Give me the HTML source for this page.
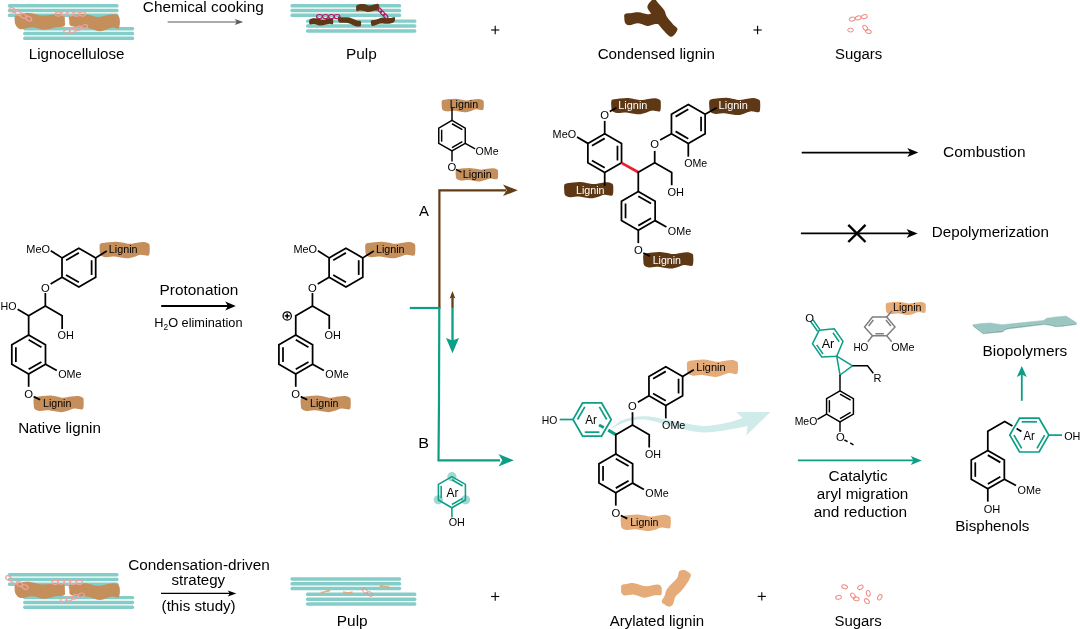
<!DOCTYPE html>
<html lang="en">
<head>
<meta charset="utf-8">
<title>Lignin condensation-driven strategy</title>
<style>
html,body{margin:0;padding:0;background:#ffffff;}
body{width:1080px;height:629px;overflow:hidden;}
svg{display:block;will-change:transform;}
svg text{font-family:'Liberation Sans',Arial,Helvetica,sans-serif;}
</style>
</head>
<body>
<svg width="1080" height="629" viewBox="0 0 1080 629" font-family="'Liberation Sans', Arial, Helvetica, sans-serif">
<rect width="1080" height="629" fill="#ffffff"/>
<rect x="7.8" y="4.1" width="110.8" height="3.45" rx="1.6" fill="#84cdc8"/>
<rect x="7.8" y="8.8" width="110.8" height="3.45" rx="1.6" fill="#84cdc8"/>
<rect x="7.8" y="13.6" width="110.8" height="3.45" rx="1.6" fill="#84cdc8"/>
<rect x="23.1" y="27" width="111.1" height="3.45" rx="1.6" fill="#84cdc8"/>
<rect x="23.1" y="31.8" width="111.1" height="3.45" rx="1.6" fill="#84cdc8"/>
<rect x="23.1" y="36.6" width="111.1" height="3.45" rx="1.6" fill="#84cdc8"/>
<path d="M15.56 15.59 C16.79 14.4 19.66 14.08 22.04 13.65 C24.41 13.22 26.36 12.68 29.82 13 C33.27 13.32 38.46 15.38 42.78 15.59 C47.1 15.81 52.24 14.36 55.74 14.3 C59.24 14.23 62.27 14.12 63.78 15.2 C65.29 16.28 64.75 18.92 64.82 20.78 C64.88 22.64 65.68 25.27 64.17 26.35 C62.66 27.43 59.09 26.68 55.74 27.26 C52.39 27.84 47.96 29.85 44.08 29.85 C40.19 29.85 36.3 27.37 32.41 27.26 C28.52 27.15 23.44 29.42 20.74 29.2 C18.04 28.99 17.22 27.37 16.2 25.96 C15.19 24.56 14.76 22.51 14.65 20.78 C14.54 19.05 14.32 16.78 15.56 15.59 Z" fill="#c58f5c"/>
<path d="M70 15.98 C72.27 14.9 79.51 14.4 82.97 14.3 C86.42 14.19 88.15 14.9 90.74 15.33 C93.34 15.77 94.85 17.06 98.52 16.89 C102.2 16.72 109.43 14.45 112.78 14.3 C116.13 14.15 117.43 14.69 118.62 15.98 C119.8 17.28 119.85 20.09 119.91 22.07 C119.98 24.06 119.54 26.83 119 27.91 C118.46 28.99 117.92 28.6 116.67 28.56 C115.42 28.51 114.29 27.22 111.49 27.65 C108.68 28.08 103.71 31.11 99.82 31.15 C95.93 31.19 91.82 28.56 88.15 27.91 C84.48 27.26 80.76 27.65 77.78 27.26 C74.8 26.87 71.67 26.65 70.26 25.57 C68.86 24.49 69.4 22.38 69.35 20.78 C69.31 19.18 67.73 17.06 70 15.98 Z" fill="#c58f5c"/>
<ellipse cx="12.3" cy="9.9" rx="3.1" ry="2.1" transform="rotate(28 12.3 9.9)" fill="none" stroke="#f0a39f" stroke-width="1.2"/>
<ellipse cx="18.1" cy="13.2" rx="3.1" ry="2.1" transform="rotate(28 18.1 13.2)" fill="none" stroke="#f0a39f" stroke-width="1.2"/>
<ellipse cx="23.3" cy="15.8" rx="3.1" ry="2.1" transform="rotate(28 23.3 15.8)" fill="none" stroke="#f0a39f" stroke-width="1.2"/>
<ellipse cx="28.8" cy="18.7" rx="3.1" ry="2.1" transform="rotate(28 28.8 18.7)" fill="none" stroke="#f0a39f" stroke-width="1.2"/>
<ellipse cx="58.3" cy="14" rx="3" ry="2.2" transform="rotate(0 58.3 14)" fill="none" stroke="#f0a39f" stroke-width="1.2"/>
<ellipse cx="64.4" cy="13.6" rx="3" ry="2.2" transform="rotate(0 64.4 13.6)" fill="none" stroke="#f0a39f" stroke-width="1.2"/>
<ellipse cx="70.4" cy="13.6" rx="3" ry="2.2" transform="rotate(0 70.4 13.6)" fill="none" stroke="#f0a39f" stroke-width="1.2"/>
<ellipse cx="76.5" cy="13.9" rx="3" ry="2.2" transform="rotate(0 76.5 13.9)" fill="none" stroke="#f0a39f" stroke-width="1.2"/>
<ellipse cx="82.6" cy="14" rx="3" ry="2.2" transform="rotate(0 82.6 14)" fill="none" stroke="#f0a39f" stroke-width="1.2"/>
<ellipse cx="66.8" cy="31.5" rx="3.1" ry="2.1" transform="rotate(-18 66.8 31.5)" fill="none" stroke="#f0a39f" stroke-width="1.2"/>
<ellipse cx="72.6" cy="30.5" rx="3.1" ry="2.1" transform="rotate(-18 72.6 30.5)" fill="none" stroke="#f0a39f" stroke-width="1.2"/>
<ellipse cx="78.4" cy="28.5" rx="3.1" ry="2.1" transform="rotate(-18 78.4 28.5)" fill="none" stroke="#f0a39f" stroke-width="1.2"/>
<ellipse cx="84.5" cy="27" rx="3.1" ry="2.1" transform="rotate(-18 84.5 27)" fill="none" stroke="#f0a39f" stroke-width="1.2"/>
<text x="28.76" y="59" font-size="15.5" text-anchor="start" fill="#000000" stroke="#000000" stroke-width="0" textLength="95.71" lengthAdjust="spacingAndGlyphs">Lignocellulose</text>
<text x="142.83" y="12" font-size="15.5" text-anchor="start" fill="#000000" stroke="#000000" stroke-width="0" textLength="121.01" lengthAdjust="spacingAndGlyphs">Chemical cooking</text>
<line x1="167.6" y1="22" x2="237" y2="22" stroke="#5a5a5a" stroke-width="1.2" stroke-linecap="butt"/>
<polygon points="243.2,22 234.7,19 236.7,22 234.7,25" fill="#5a5a5a"/>
<rect x="290.4" y="4.1" width="110.8" height="3.45" rx="1.6" fill="#84cdc8"/>
<rect x="290.4" y="8.8" width="110.8" height="3.45" rx="1.6" fill="#84cdc8"/>
<rect x="290.4" y="13.6" width="110.8" height="3.45" rx="1.6" fill="#84cdc8"/>
<rect x="305.9" y="19.4" width="110.5" height="3.45" rx="1.6" fill="#84cdc8"/>
<rect x="305.9" y="24.2" width="110.5" height="3.45" rx="1.6" fill="#84cdc8"/>
<rect x="305.9" y="29.2" width="110.5" height="3.45" rx="1.6" fill="#84cdc8"/>
<path d="M310.49 18.98 C311.21 18.64 312.44 18.27 313.59 18.19 C314.74 18.12 316.14 18.32 317.41 18.56 C318.68 18.79 319.95 19.47 321.22 19.61 C322.5 19.75 323.77 19.6 325.04 19.38 C326.31 19.16 327.7 18.49 328.86 18.3 C330.01 18.11 331.24 17.93 331.96 18.25 C332.67 18.56 332.95 19.33 333.15 20.18 C333.35 21.04 333.35 22.69 333.15 23.38 C332.95 24.07 332.67 24.24 331.96 24.32 C331.24 24.41 330.01 23.81 328.86 23.88 C327.7 23.95 326.31 24.44 325.04 24.72 C323.77 25 322.5 25.53 321.22 25.56 C319.95 25.59 318.68 25.15 317.41 24.9 C316.14 24.65 314.74 24.13 313.59 24.06 C312.44 23.99 311.21 24.55 310.49 24.47 C309.77 24.39 309.5 24.28 309.3 23.58 C309.1 22.87 309.1 21 309.3 20.24 C309.5 19.47 309.77 19.32 310.49 18.98 Z" fill="#5e3815"/>
<path d="M339.23 16.63 C339.92 16.67 341.11 17.21 342.23 17.31 C343.35 17.42 344.69 17.2 345.92 17.25 C347.15 17.3 348.38 17.29 349.61 17.59 C350.84 17.9 352.08 18.59 353.31 19.08 C354.54 19.58 355.88 20.25 357 20.55 C358.11 20.85 359.31 20.62 360 20.87 C360.68 21.12 360.94 21.3 361.09 22.05 C361.25 22.81 361.17 24.66 360.95 25.39 C360.73 26.12 360.45 26.26 359.75 26.42 C359.06 26.59 357.89 26.58 356.79 26.4 C355.68 26.22 354.35 25.81 353.13 25.35 C351.92 24.89 350.7 24.06 349.48 23.62 C348.27 23.18 347.05 22.86 345.83 22.71 C344.62 22.57 343.29 22.8 342.18 22.76 C341.08 22.72 339.9 22.89 339.22 22.48 C338.53 22.06 338.27 21.17 338.08 20.26 C337.89 19.36 337.88 17.68 338.08 17.07 C338.27 16.46 338.54 16.59 339.23 16.63 Z" fill="#5e3815"/>
<path d="M357.38 5.03 C358.07 4.69 359.26 4.28 360.38 4.12 C361.49 3.96 362.84 3.88 364.07 4.05 C365.3 4.22 366.53 4.92 367.76 5.14 C368.99 5.35 370.22 5.48 371.45 5.34 C372.69 5.2 374.03 4.53 375.15 4.28 C376.26 4.04 377.46 3.57 378.15 3.88 C378.83 4.18 379.08 5.12 379.24 6.09 C379.4 7.07 379.32 8.97 379.1 9.72 C378.87 10.47 378.59 10.45 377.9 10.58 C377.21 10.71 376.04 10.32 374.93 10.48 C373.83 10.64 372.5 11.29 371.28 11.55 C370.07 11.81 368.85 12.11 367.63 12.03 C366.42 11.96 365.2 11.34 363.98 11.1 C362.77 10.86 361.43 10.55 360.33 10.58 C359.23 10.61 358.05 11.4 357.37 11.29 C356.68 11.18 356.42 10.78 356.23 9.92 C356.03 9.07 356.03 6.97 356.23 6.15 C356.42 5.33 356.69 5.37 357.38 5.03 Z" fill="#5e3815"/>
<path d="M372.09 20.13 C372.81 19.93 374.08 20.07 375.26 19.8 C376.44 19.53 377.86 18.86 379.16 18.5 C380.46 18.13 381.76 17.7 383.06 17.59 C384.36 17.48 385.66 17.76 386.96 17.84 C388.26 17.92 389.68 18.14 390.86 18.06 C392.04 17.98 393.32 17.37 394.03 17.37 C394.73 17.37 394.98 17.43 395.1 18.05 C395.22 18.67 395.02 20.37 394.74 21.1 C394.46 21.83 394.15 22.04 393.42 22.44 C392.7 22.84 391.51 23.28 390.37 23.51 C389.24 23.74 387.87 23.82 386.62 23.81 C385.37 23.79 384.12 23.41 382.86 23.42 C381.61 23.43 380.36 23.56 379.11 23.87 C377.86 24.17 376.49 24.9 375.36 25.26 C374.22 25.63 373.02 26.24 372.31 26.08 C371.59 25.91 371.31 25.1 371.08 24.25 C370.85 23.41 370.76 21.68 370.93 20.99 C371.1 20.3 371.37 20.32 372.09 20.13 Z" fill="#5e3815"/>
<ellipse cx="319.5" cy="16.5" rx="2.9" ry="2" transform="rotate(0 319.5 16.5)" fill="none" stroke="#b5185f" stroke-width="1.2"/>
<ellipse cx="325.4" cy="16.5" rx="2.9" ry="2" transform="rotate(0 325.4 16.5)" fill="none" stroke="#b5185f" stroke-width="1.2"/>
<ellipse cx="331.5" cy="16.5" rx="2.9" ry="2" transform="rotate(0 331.5 16.5)" fill="none" stroke="#b5185f" stroke-width="1.2"/>
<ellipse cx="337" cy="16.5" rx="2.9" ry="2" transform="rotate(0 337 16.5)" fill="none" stroke="#b5185f" stroke-width="1.2"/>
<ellipse cx="379.8" cy="10.1" rx="2.6" ry="1.6" transform="rotate(48 379.8 10.1)" fill="none" stroke="#b5185f" stroke-width="1.2"/>
<ellipse cx="382.6" cy="13.2" rx="2.6" ry="1.6" transform="rotate(48 382.6 13.2)" fill="none" stroke="#b5185f" stroke-width="1.2"/>
<ellipse cx="385.7" cy="16.3" rx="2.6" ry="1.6" transform="rotate(48 385.7 16.3)" fill="none" stroke="#b5185f" stroke-width="1.2"/>
<text x="345.94" y="59" font-size="15.5" text-anchor="start" fill="#000000" stroke="#000000" stroke-width="0" textLength="30.81" lengthAdjust="spacingAndGlyphs">Pulp</text>
<line x1="491.1" y1="30" x2="499.3" y2="30" stroke="#000000" stroke-width="1.1" stroke-linecap="butt"/>
<line x1="495.2" y1="25.8" x2="495.2" y2="34.2" stroke="#000000" stroke-width="1.1" stroke-linecap="butt"/>
<path d="M624.98 14 C626.24 13.14 629.63 13.24 631.85 12.96 C634.08 12.68 635.74 12.1 638.34 12.32 C640.93 12.53 645.03 13.98 647.41 14.26 C649.79 14.54 650.43 13.35 652.6 14 C654.76 14.65 658.64 16.49 660.37 18.15 C662.1 19.81 663.83 23.01 662.97 23.98 C662.1 24.95 657.78 23.66 655.19 23.98 C652.6 24.31 650.22 26.03 647.41 25.93 C644.6 25.82 641.36 23.44 638.34 23.33 C635.31 23.23 631.42 25.28 629.26 25.28 C627.1 25.28 626.19 24.52 625.37 23.33 C624.55 22.15 624.4 19.7 624.33 18.15 C624.27 16.59 623.73 14.86 624.98 14 Z" fill="#5e3815"/>
<path d="M652.6 -0.65 C651.3 0.54 647.73 4.21 647.41 6.48 C647.09 8.75 648.92 10.15 650.65 12.96 C652.38 15.77 655.73 20.53 657.78 23.33 C659.83 26.14 661.02 27.66 662.97 29.82 C664.91 31.98 667.72 35.33 669.45 36.3 C671.18 37.27 672 36.84 673.34 35.65 C674.68 34.46 677.49 31 677.49 29.17 C677.49 27.33 675.11 26.68 673.34 24.63 C671.57 22.58 668.37 19.23 666.86 16.85 C665.34 14.48 665.77 12.75 664.26 10.37 C662.75 7.99 659.29 4.43 657.78 2.59 C656.27 0.76 656.05 -0.11 655.19 -0.65 C654.32 -1.19 653.89 -1.84 652.6 -0.65 Z" fill="#5e3815"/>
<text x="597.63" y="59" font-size="15.5" text-anchor="start" fill="#000000" stroke="#000000" stroke-width="0" textLength="117.32" lengthAdjust="spacingAndGlyphs">Condensed lignin</text>
<line x1="753.5" y1="30" x2="761.7" y2="30" stroke="#000000" stroke-width="1.1" stroke-linecap="butt"/>
<line x1="757.6" y1="25.8" x2="757.6" y2="34.2" stroke="#000000" stroke-width="1.1" stroke-linecap="butt"/>
<ellipse cx="852.2" cy="19.1" rx="2.9" ry="1.9" transform="rotate(-15 852.2 19.1)" fill="none" stroke="#ee8c84" stroke-width="1"/>
<ellipse cx="858.3" cy="17.9" rx="2.9" ry="1.9" transform="rotate(-15 858.3 17.9)" fill="none" stroke="#ee8c84" stroke-width="1"/>
<ellipse cx="864.4" cy="16.6" rx="2.9" ry="1.9" transform="rotate(-15 864.4 16.6)" fill="none" stroke="#ee8c84" stroke-width="1"/>
<ellipse cx="850.6" cy="30.1" rx="2.9" ry="1.9" transform="rotate(0 850.6 30.1)" fill="none" stroke="#ee8c84" stroke-width="1"/>
<ellipse cx="865.2" cy="27.9" rx="2.9" ry="1.9" transform="rotate(50 865.2 27.9)" fill="none" stroke="#ee8c84" stroke-width="1"/>
<ellipse cx="868.4" cy="31.5" rx="2.9" ry="1.9" transform="rotate(15 868.4 31.5)" fill="none" stroke="#ee8c84" stroke-width="1"/>
<text x="834.97" y="59" font-size="15.5" text-anchor="start" fill="#000000" stroke="#000000" stroke-width="0" textLength="47.31" lengthAdjust="spacingAndGlyphs">Sugars</text>
<rect x="7.8" y="573" width="110.8" height="3.45" rx="1.6" fill="#84cdc8"/>
<rect x="7.8" y="577.7" width="110.8" height="3.45" rx="1.6" fill="#84cdc8"/>
<rect x="7.8" y="582.5" width="110.8" height="3.45" rx="1.6" fill="#84cdc8"/>
<rect x="23.1" y="595.9" width="111.1" height="3.45" rx="1.6" fill="#84cdc8"/>
<rect x="23.1" y="600.7" width="111.1" height="3.45" rx="1.6" fill="#84cdc8"/>
<rect x="23.1" y="605.5" width="111.1" height="3.45" rx="1.6" fill="#84cdc8"/>
<path d="M15.56 584.49 C16.79 583.3 19.66 582.98 22.04 582.55 C24.41 582.12 26.36 581.58 29.82 581.9 C33.27 582.22 38.46 584.28 42.78 584.49 C47.1 584.71 52.24 583.26 55.74 583.2 C59.24 583.13 62.27 583.02 63.78 584.1 C65.29 585.18 64.75 587.82 64.82 589.68 C64.88 591.54 65.68 594.17 64.17 595.25 C62.66 596.33 59.09 595.58 55.74 596.16 C52.39 596.74 47.96 598.75 44.08 598.75 C40.19 598.75 36.3 596.27 32.41 596.16 C28.52 596.05 23.44 598.32 20.74 598.1 C18.04 597.89 17.22 596.27 16.2 594.86 C15.19 593.46 14.76 591.41 14.65 589.68 C14.54 587.95 14.32 585.68 15.56 584.49 Z" fill="#c58f5c"/>
<path d="M70 584.88 C72.27 583.8 79.51 583.3 82.97 583.2 C86.42 583.09 88.15 583.8 90.74 584.23 C93.34 584.67 94.85 585.96 98.52 585.79 C102.2 585.62 109.43 583.35 112.78 583.2 C116.13 583.05 117.43 583.59 118.62 584.88 C119.8 586.18 119.85 588.99 119.91 590.97 C119.98 592.96 119.54 595.73 119 596.81 C118.46 597.89 117.92 597.5 116.67 597.46 C115.42 597.41 114.29 596.12 111.49 596.55 C108.68 596.98 103.71 600.01 99.82 600.05 C95.93 600.09 91.82 597.46 88.15 596.81 C84.48 596.16 80.76 596.55 77.78 596.16 C74.8 595.77 71.67 595.55 70.26 594.47 C68.86 593.39 69.4 591.28 69.35 589.68 C69.31 588.08 67.73 585.96 70 584.88 Z" fill="#c58f5c"/>
<ellipse cx="8.6" cy="578.2" rx="3.1" ry="2.1" transform="rotate(28 8.6 578.2)" fill="none" stroke="#f0a39f" stroke-width="1.2"/>
<ellipse cx="14.4" cy="581.5" rx="3.1" ry="2.1" transform="rotate(28 14.4 581.5)" fill="none" stroke="#f0a39f" stroke-width="1.2"/>
<ellipse cx="19.6" cy="584.1" rx="3.1" ry="2.1" transform="rotate(28 19.6 584.1)" fill="none" stroke="#f0a39f" stroke-width="1.2"/>
<ellipse cx="25.1" cy="587" rx="3.1" ry="2.1" transform="rotate(28 25.1 587)" fill="none" stroke="#f0a39f" stroke-width="1.2"/>
<ellipse cx="55.1" cy="582.3" rx="3" ry="2.2" transform="rotate(0 55.1 582.3)" fill="none" stroke="#f0a39f" stroke-width="1.2"/>
<ellipse cx="61.2" cy="581.9" rx="3" ry="2.2" transform="rotate(0 61.2 581.9)" fill="none" stroke="#f0a39f" stroke-width="1.2"/>
<ellipse cx="67.2" cy="581.9" rx="3" ry="2.2" transform="rotate(0 67.2 581.9)" fill="none" stroke="#f0a39f" stroke-width="1.2"/>
<ellipse cx="73.3" cy="582.2" rx="3" ry="2.2" transform="rotate(0 73.3 582.2)" fill="none" stroke="#f0a39f" stroke-width="1.2"/>
<ellipse cx="79.4" cy="582.3" rx="3" ry="2.2" transform="rotate(0 79.4 582.3)" fill="none" stroke="#f0a39f" stroke-width="1.2"/>
<ellipse cx="63.6" cy="599.8" rx="3.1" ry="2.1" transform="rotate(-18 63.6 599.8)" fill="none" stroke="#f0a39f" stroke-width="1.2"/>
<ellipse cx="69.4" cy="598.8" rx="3.1" ry="2.1" transform="rotate(-18 69.4 598.8)" fill="none" stroke="#f0a39f" stroke-width="1.2"/>
<ellipse cx="75.2" cy="596.8" rx="3.1" ry="2.1" transform="rotate(-18 75.2 596.8)" fill="none" stroke="#f0a39f" stroke-width="1.2"/>
<ellipse cx="81.3" cy="595.3" rx="3.1" ry="2.1" transform="rotate(-18 81.3 595.3)" fill="none" stroke="#f0a39f" stroke-width="1.2"/>
<text x="128.13" y="570" font-size="15.5" text-anchor="start" fill="#000000" stroke="#000000" stroke-width="0" textLength="141.7" lengthAdjust="spacingAndGlyphs">Condensation-driven</text>
<text x="171.52" y="585" font-size="15.5" text-anchor="start" fill="#000000" stroke="#000000" stroke-width="0" textLength="53.59" lengthAdjust="spacingAndGlyphs">strategy</text>
<text x="161.61" y="611" font-size="15.5" text-anchor="start" fill="#000000" stroke="#000000" stroke-width="0" textLength="74.07" lengthAdjust="spacingAndGlyphs">(this study)</text>
<line x1="161" y1="593.4" x2="230.1" y2="593.4" stroke="#000000" stroke-width="1.1" stroke-linecap="butt"/>
<polygon points="236.3,593.4 227.8,590.4 229.8,593.4 227.8,596.4" fill="#000000"/>
<rect x="290.4" y="577.2" width="110.8" height="3.5" rx="1.6" fill="#84cdc8"/>
<rect x="290.4" y="582" width="110.8" height="3.5" rx="1.6" fill="#84cdc8"/>
<rect x="290.4" y="586.7" width="110.8" height="3.5" rx="1.6" fill="#84cdc8"/>
<rect x="305.9" y="592.6" width="110.5" height="3.5" rx="1.6" fill="#84cdc8"/>
<rect x="305.9" y="597.4" width="110.5" height="3.5" rx="1.6" fill="#84cdc8"/>
<rect x="305.9" y="602.2" width="110.5" height="3.5" rx="1.6" fill="#84cdc8"/>
<polygon points="320.35,591.87 322.78,591.57 325.16,591.08 327.33,590.02 329.45,588.77 330.35,591.43 327.92,591.73 325.54,592.22 323.37,593.28 321.25,594.53" fill="#e5ac7a"/>
<polygon points="343.1,591.3 345.48,591.8 347.85,592.1 350.23,591.8 352.6,591.3 352.6,594.1 350.23,593.6 347.85,593.3 345.48,593.6 343.1,594.1" fill="#e5ac7a"/>
<polygon points="380.06,584.22 382.24,585.14 384.46,585.86 386.79,585.99 389.16,585.92 388.64,588.68 386.46,587.76 384.24,587.04 381.91,586.91 379.54,586.98" fill="#e5ac7a"/>
<ellipse cx="364.7" cy="590.5" rx="3" ry="2" transform="rotate(45 364.7 590.5)" fill="none" stroke="#ee8c84" stroke-width="0.8"/>
<ellipse cx="370.1" cy="594" rx="3" ry="2" transform="rotate(35 370.1 594)" fill="none" stroke="#ee8c84" stroke-width="0.8"/>
<text x="336.84" y="626" font-size="15.5" text-anchor="start" fill="#000000" stroke="#000000" stroke-width="0" textLength="30.81" lengthAdjust="spacingAndGlyphs">Pulp</text>
<line x1="491.1" y1="596.5" x2="499.3" y2="596.5" stroke="#000000" stroke-width="1.1" stroke-linecap="butt"/>
<line x1="495.2" y1="592.3" x2="495.2" y2="600.7" stroke="#000000" stroke-width="1.1" stroke-linecap="butt"/>
<path d="M621.76 584.93 C622.84 584.17 625.54 583.91 627.59 583.63 C629.65 583.35 631.05 582.81 634.08 583.24 C637.1 583.67 641.85 586.01 645.74 586.22 C649.63 586.44 654.82 584.43 657.41 584.54 C660 584.65 660.59 585.73 661.3 586.87 C662.01 588.02 661.73 590.07 661.69 591.41 C661.64 592.75 662.18 594.26 661.04 594.91 C659.89 595.56 657.58 594.84 654.82 595.3 C652.05 595.75 647.9 597.74 644.45 597.63 C640.99 597.52 637.32 595 634.08 594.65 C630.83 594.3 627.1 595.84 625 595.56 C622.91 595.28 622.15 594.2 621.5 592.96 C620.85 591.73 621.07 589.51 621.11 588.17 C621.16 586.83 620.68 585.68 621.76 584.93 Z" fill="#e5ac7a"/>
<path d="M679.45 570.93 C680.27 570.26 682.15 569.89 683.34 569.89 C684.53 569.89 685.32 570.15 686.58 570.93 C687.83 571.7 690.42 573.09 690.86 574.56 C691.29 576.03 689.99 578.01 689.17 579.74 C688.35 581.47 687.33 582.98 685.93 584.93 C684.53 586.87 682.47 589.46 680.74 591.41 C679.02 593.35 676.86 594.43 675.56 596.59 C674.26 598.75 674.05 602.69 672.97 604.37 C671.89 606.06 670.59 606.75 669.08 606.71 C667.56 606.66 665.12 605.04 663.89 604.11 C662.66 603.18 661.58 602.49 661.69 601.13 C661.8 599.77 663.74 597.78 664.54 595.95 C665.34 594.11 665.51 591.95 666.48 590.11 C667.46 588.28 668.64 586.87 670.37 584.93 C672.1 582.98 675.52 580.28 676.86 578.45 C678.19 576.61 677.98 575.16 678.41 573.91 C678.84 572.65 678.63 571.6 679.45 570.93 Z" fill="#e5ac7a"/>
<text x="609.7" y="626" font-size="15.5" text-anchor="start" fill="#000000" stroke="#000000" stroke-width="0" textLength="94.45" lengthAdjust="spacingAndGlyphs">Arylated lignin</text>
<line x1="757.7" y1="596.4" x2="765.9" y2="596.4" stroke="#000000" stroke-width="1.1" stroke-linecap="butt"/>
<line x1="761.8" y1="592.2" x2="761.8" y2="600.6" stroke="#000000" stroke-width="1.1" stroke-linecap="butt"/>
<ellipse cx="844.6" cy="586.8" rx="2.9" ry="1.9" transform="rotate(20 844.6 586.8)" fill="none" stroke="#ee8c84" stroke-width="1"/>
<ellipse cx="860.4" cy="587.3" rx="2.9" ry="1.9" transform="rotate(-30 860.4 587.3)" fill="none" stroke="#ee8c84" stroke-width="1"/>
<ellipse cx="868.3" cy="593.3" rx="2.9" ry="1.9" transform="rotate(80 868.3 593.3)" fill="none" stroke="#ee8c84" stroke-width="1"/>
<ellipse cx="879.8" cy="597.3" rx="2.9" ry="1.9" transform="rotate(-60 879.8 597.3)" fill="none" stroke="#ee8c84" stroke-width="1"/>
<ellipse cx="838.5" cy="597.3" rx="2.9" ry="1.9" transform="rotate(-10 838.5 597.3)" fill="none" stroke="#ee8c84" stroke-width="1"/>
<ellipse cx="853" cy="595.7" rx="2.9" ry="1.9" transform="rotate(50 853 595.7)" fill="none" stroke="#ee8c84" stroke-width="1"/>
<ellipse cx="856.3" cy="598.8" rx="2.9" ry="1.9" transform="rotate(15 856.3 598.8)" fill="none" stroke="#ee8c84" stroke-width="1"/>
<ellipse cx="866.9" cy="601.2" rx="2.9" ry="1.9" transform="rotate(45 866.9 601.2)" fill="none" stroke="#ee8c84" stroke-width="1"/>
<text x="834.47" y="626" font-size="15.5" text-anchor="start" fill="#000000" stroke="#000000" stroke-width="0" textLength="47.31" lengthAdjust="spacingAndGlyphs">Sugars</text>
<path d="M78.85 248.15 L95.69 257.88 L95.69 277.33 L78.85 287.05 L62.01 277.33 L62.01 257.88 Z" fill="none" stroke="#000000" stroke-width="1.75" stroke-linejoin="miter"/>
<line x1="66.09" y1="260.23" x2="78.85" y2="252.87" stroke="#000000" stroke-width="1.75" stroke-linecap="butt"/>
<line x1="91.61" y1="260.23" x2="91.61" y2="274.97" stroke="#000000" stroke-width="1.75" stroke-linecap="butt"/>
<line x1="78.85" y1="282.33" x2="66.09" y2="274.97" stroke="#000000" stroke-width="1.75" stroke-linecap="butt"/>
<line x1="62.01" y1="257.88" x2="50.8" y2="250.8" stroke="#000000" stroke-width="1.75" stroke-linecap="butt"/>
<text x="26.31" y="253" font-size="11.28" text-anchor="start" fill="#000000" stroke="#000000" stroke-width="0" textLength="23.7" lengthAdjust="spacingAndGlyphs">MeO</text>
<line x1="62.01" y1="277.33" x2="50.6" y2="283.9" stroke="#000000" stroke-width="1.75" stroke-linecap="butt"/>
<text x="45.3" y="292" font-size="11.28" text-anchor="middle" fill="#000000" stroke="#000000" stroke-width="0">O</text>
<line x1="45.35" y1="293" x2="45.35" y2="305.8" stroke="#000000" stroke-width="1.75" stroke-linecap="butt"/>
<path d="M101.2 243.36 C102.7 242.83 106.12 242.47 108.7 242.2 C111.28 241.92 114.2 241.59 116.7 241.7 C119.2 241.81 121.53 242.5 123.7 242.86 C125.87 243.22 127.45 243.89 129.7 243.86 C131.95 243.83 134.78 243 137.2 242.7 C139.62 242.39 142.24 241.84 144.2 242.03 C146.16 242.23 148.03 242.94 148.95 243.86 C149.87 244.77 149.62 245.88 149.7 247.51 C149.78 249.14 149.78 252.3 149.45 253.65 C149.12 255.01 149.16 255.48 147.7 255.64 C146.24 255.81 143.03 254.43 140.7 254.65 C138.37 254.87 135.87 256.36 133.7 256.97 C131.53 257.58 129.87 258.22 127.7 258.3 C125.53 258.38 122.87 257.77 120.7 257.47 C118.53 257.17 117.2 256.53 114.7 256.47 C112.2 256.42 108.03 257.36 105.7 257.14 C103.37 256.92 101.7 256.34 100.7 255.15 C99.7 253.96 99.87 251.63 99.7 250 C99.53 248.37 99.45 246.46 99.7 245.35 C99.95 244.25 99.7 243.89 101.2 243.36 Z" fill="#c58f5c"/>
<text x="108.82" y="253" font-size="11.28" text-anchor="start" fill="#000000" stroke="#000000" stroke-width="0" textLength="28.69" lengthAdjust="spacingAndGlyphs">Lignin</text>
<line x1="95.69" y1="257.88" x2="106.7" y2="251" stroke="#000000" stroke-width="1.75" stroke-linecap="butt"/>
<path d="M17.6 309.3 L28.65 315.7 L45.35 306 L62.15 315.7 L62.15 329" fill="none" stroke="#000000" stroke-width="1.75" stroke-linejoin="miter"/>
<text x="0.43" y="310" font-size="11.28" text-anchor="start" fill="#000000" stroke="#000000" stroke-width="0" textLength="16.02" lengthAdjust="spacingAndGlyphs">HO</text>
<text x="57.51" y="339" font-size="11.28" text-anchor="start" fill="#000000" stroke="#000000" stroke-width="0" textLength="16.31" lengthAdjust="spacingAndGlyphs">OH</text>
<line x1="28.65" y1="315.7" x2="28.65" y2="335.2" stroke="#000000" stroke-width="1.75" stroke-linecap="butt"/>
<path d="M28.65 335.1 L45.49 344.82 L45.49 364.28 L28.65 374 L11.81 364.28 L11.81 344.82 Z" fill="none" stroke="#000000" stroke-width="1.75" stroke-linejoin="miter"/>
<line x1="28.65" y1="339.82" x2="41.41" y2="347.18" stroke="#000000" stroke-width="1.75" stroke-linecap="butt"/>
<line x1="41.41" y1="361.92" x2="28.65" y2="369.28" stroke="#000000" stroke-width="1.75" stroke-linecap="butt"/>
<line x1="15.89" y1="361.92" x2="15.89" y2="347.18" stroke="#000000" stroke-width="1.75" stroke-linecap="butt"/>
<line x1="45.49" y1="364.28" x2="56.79" y2="370.58" stroke="#000000" stroke-width="1.75" stroke-linecap="butt"/>
<text x="58.2" y="378" font-size="11.28" text-anchor="start" fill="#000000" stroke="#000000" stroke-width="0" textLength="23.36" lengthAdjust="spacingAndGlyphs">OMe</text>
<line x1="28.65" y1="374" x2="28.65" y2="386.8" stroke="#000000" stroke-width="1.75" stroke-linecap="butt"/>
<text x="28.65" y="398" font-size="11.28" text-anchor="middle" fill="#000000" stroke="#000000" stroke-width="0">O</text>
<path d="M35.15 397.26 C36.65 396.73 40.07 396.37 42.65 396.1 C45.23 395.82 48.15 395.49 50.65 395.6 C53.15 395.71 55.48 396.4 57.65 396.76 C59.82 397.12 61.4 397.79 63.65 397.76 C65.9 397.73 68.73 396.9 71.15 396.6 C73.57 396.29 76.19 395.74 78.15 395.93 C80.11 396.13 81.98 396.85 82.9 397.76 C83.82 398.67 83.57 399.78 83.65 401.41 C83.73 403.04 83.73 406.2 83.4 407.55 C83.07 408.91 83.11 409.38 81.65 409.54 C80.19 409.71 76.98 408.33 74.65 408.55 C72.32 408.77 69.82 410.26 67.65 410.87 C65.48 411.48 63.82 412.12 61.65 412.2 C59.48 412.28 56.82 411.67 54.65 411.37 C52.48 411.07 51.15 410.43 48.65 410.37 C46.15 410.32 41.98 411.26 39.65 411.04 C37.32 410.82 35.65 410.24 34.65 409.05 C33.65 407.86 33.82 405.53 33.65 403.9 C33.48 402.27 33.4 400.36 33.65 399.25 C33.9 398.15 33.65 397.79 35.15 397.26 Z" fill="#c58f5c"/>
<text x="42.98" y="407" font-size="11.28" text-anchor="start" fill="#000000" stroke="#000000" stroke-width="0" textLength="28.37" lengthAdjust="spacingAndGlyphs">Lignin</text>
<line x1="33.65" y1="396.6" x2="40.15" y2="399.8" stroke="#000000" stroke-width="1.75" stroke-linecap="butt"/>
<text x="18.15" y="433" font-size="15.5" text-anchor="start" fill="#000000" stroke="#000000" stroke-width="0" textLength="82.77" lengthAdjust="spacingAndGlyphs">Native lignin</text>
<text x="159.54" y="295" font-size="15.5" text-anchor="start" fill="#000000" stroke="#000000" stroke-width="0" textLength="78.73" lengthAdjust="spacingAndGlyphs">Protonation</text>
<line x1="161.2" y1="306" x2="228.3" y2="306" stroke="#000000" stroke-width="1.8" stroke-linecap="butt"/>
<polygon points="235.8,306 225.2,301.6 228,306 225.2,310.4" fill="#000000"/>
<text x="154.3" y="327" font-size="12.5" fill="#000000" textLength="88.2" lengthAdjust="spacingAndGlyphs">H<tspan font-size="8.2" dy="3.2">2</tspan><tspan dy="-3.2">O elimination</tspan></text>
<path d="M345.95 248.15 L362.79 257.88 L362.79 277.33 L345.95 287.05 L329.11 277.33 L329.11 257.88 Z" fill="none" stroke="#000000" stroke-width="1.75" stroke-linejoin="miter"/>
<line x1="333.19" y1="260.23" x2="345.95" y2="252.87" stroke="#000000" stroke-width="1.75" stroke-linecap="butt"/>
<line x1="358.71" y1="260.23" x2="358.71" y2="274.97" stroke="#000000" stroke-width="1.75" stroke-linecap="butt"/>
<line x1="345.95" y1="282.33" x2="333.19" y2="274.97" stroke="#000000" stroke-width="1.75" stroke-linecap="butt"/>
<line x1="329.11" y1="257.88" x2="317.9" y2="250.8" stroke="#000000" stroke-width="1.75" stroke-linecap="butt"/>
<text x="293.41" y="253" font-size="11.28" text-anchor="start" fill="#000000" stroke="#000000" stroke-width="0" textLength="23.7" lengthAdjust="spacingAndGlyphs">MeO</text>
<line x1="329.11" y1="277.33" x2="317.7" y2="283.9" stroke="#000000" stroke-width="1.75" stroke-linecap="butt"/>
<text x="312.4" y="292" font-size="11.28" text-anchor="middle" fill="#000000" stroke="#000000" stroke-width="0">O</text>
<line x1="312.45" y1="293" x2="312.45" y2="305.8" stroke="#000000" stroke-width="1.75" stroke-linecap="butt"/>
<path d="M366.8 243.36 C368.3 242.83 371.72 242.47 374.3 242.2 C376.88 241.92 379.8 241.59 382.3 241.7 C384.8 241.81 387.13 242.5 389.3 242.86 C391.47 243.22 393.05 243.89 395.3 243.86 C397.55 243.83 400.38 243 402.8 242.7 C405.22 242.39 407.84 241.84 409.8 242.03 C411.76 242.23 413.63 242.94 414.55 243.86 C415.47 244.77 415.22 245.88 415.3 247.51 C415.38 249.14 415.38 252.3 415.05 253.65 C414.72 255.01 414.76 255.48 413.3 255.64 C411.84 255.81 408.63 254.43 406.3 254.65 C403.97 254.87 401.47 256.36 399.3 256.97 C397.13 257.58 395.47 258.22 393.3 258.3 C391.13 258.38 388.47 257.77 386.3 257.47 C384.13 257.17 382.8 256.53 380.3 256.47 C377.8 256.42 373.63 257.36 371.3 257.14 C368.97 256.92 367.3 256.34 366.3 255.15 C365.3 253.96 365.47 251.63 365.3 250 C365.13 248.37 365.05 246.46 365.3 245.35 C365.55 244.25 365.3 243.89 366.8 243.36 Z" fill="#c58f5c"/>
<text x="375.92" y="253" font-size="11.28" text-anchor="start" fill="#000000" stroke="#000000" stroke-width="0" textLength="28.69" lengthAdjust="spacingAndGlyphs">Lignin</text>
<line x1="362.79" y1="257.88" x2="373.8" y2="251" stroke="#000000" stroke-width="1.75" stroke-linecap="butt"/>
<path d="M295.75 335.2 L295.75 315.7 L312.45 306 L329.25 315.7 L329.25 329" fill="none" stroke="#000000" stroke-width="1.75" stroke-linejoin="miter"/>
<text x="324.61" y="339" font-size="11.28" text-anchor="start" fill="#000000" stroke="#000000" stroke-width="0" textLength="16.31" lengthAdjust="spacingAndGlyphs">OH</text>
<path d="M295.75 335.1 L312.59 344.82 L312.59 364.28 L295.75 374 L278.91 364.28 L278.91 344.82 Z" fill="none" stroke="#000000" stroke-width="1.75" stroke-linejoin="miter"/>
<line x1="295.75" y1="339.82" x2="308.51" y2="347.18" stroke="#000000" stroke-width="1.75" stroke-linecap="butt"/>
<line x1="308.51" y1="361.92" x2="295.75" y2="369.28" stroke="#000000" stroke-width="1.75" stroke-linecap="butt"/>
<line x1="282.99" y1="361.92" x2="282.99" y2="347.18" stroke="#000000" stroke-width="1.75" stroke-linecap="butt"/>
<line x1="312.59" y1="364.28" x2="323.89" y2="370.58" stroke="#000000" stroke-width="1.75" stroke-linecap="butt"/>
<text x="325.3" y="378" font-size="11.28" text-anchor="start" fill="#000000" stroke="#000000" stroke-width="0" textLength="23.36" lengthAdjust="spacingAndGlyphs">OMe</text>
<line x1="295.75" y1="374" x2="295.75" y2="386.8" stroke="#000000" stroke-width="1.75" stroke-linecap="butt"/>
<text x="295.75" y="398" font-size="11.28" text-anchor="middle" fill="#000000" stroke="#000000" stroke-width="0">O</text>
<path d="M302.25 397.26 C303.75 396.73 307.17 396.37 309.75 396.1 C312.33 395.82 315.25 395.49 317.75 395.6 C320.25 395.71 322.58 396.4 324.75 396.76 C326.92 397.12 328.5 397.79 330.75 397.76 C333 397.73 335.83 396.9 338.25 396.6 C340.67 396.29 343.29 395.74 345.25 395.93 C347.21 396.13 349.08 396.85 350 397.76 C350.92 398.67 350.67 399.78 350.75 401.41 C350.83 403.04 350.83 406.2 350.5 407.55 C350.17 408.91 350.21 409.38 348.75 409.54 C347.29 409.71 344.08 408.33 341.75 408.55 C339.42 408.77 336.92 410.26 334.75 410.87 C332.58 411.48 330.92 412.12 328.75 412.2 C326.58 412.28 323.92 411.67 321.75 411.37 C319.58 411.07 318.25 410.43 315.75 410.37 C313.25 410.32 309.08 411.26 306.75 411.04 C304.42 410.82 302.75 410.24 301.75 409.05 C300.75 407.86 300.92 405.53 300.75 403.9 C300.58 402.27 300.5 400.36 300.75 399.25 C301 398.15 300.75 397.79 302.25 397.26 Z" fill="#c58f5c"/>
<text x="310.08" y="407" font-size="11.28" text-anchor="start" fill="#000000" stroke="#000000" stroke-width="0" textLength="28.37" lengthAdjust="spacingAndGlyphs">Lignin</text>
<line x1="300.75" y1="396.6" x2="307.25" y2="399.8" stroke="#000000" stroke-width="1.75" stroke-linecap="butt"/>
<circle cx="287.2" cy="315.9" r="4.15" fill="none" stroke="#000000" stroke-width="1.25"/>
<line x1="284.7" y1="315.9" x2="289.7" y2="315.9" stroke="#000000" stroke-width="1.5" stroke-linecap="butt"/>
<line x1="287.2" y1="313.4" x2="287.2" y2="318.4" stroke="#000000" stroke-width="1.5" stroke-linecap="butt"/>
<line x1="409.8" y1="308" x2="440.4" y2="308" stroke="#0d9e86" stroke-width="2.2" stroke-linecap="butt"/>
<path d="M439.4 308 L439.4 190.3 L506 190.3" fill="none" stroke="#643c14" stroke-width="2.2" stroke-linejoin="miter"/>
<polygon points="517.8,190.3 503,184.5 506.8,190.3 503,196.1" fill="#643c14"/>
<path d="M439.3 307 L439 400 L438.5 460.3 L500 460.3" fill="none" stroke="#0d9e86" stroke-width="2.2" stroke-linejoin="miter"/>
<polygon points="513.8,460.3 498.5,454.1 502.3,460.3 498.5,466.5" fill="#0d9e86"/>
<text x="418.9" y="216" font-size="15.5" text-anchor="start" fill="#000000" stroke="#000000" stroke-width="0" textLength="9.92" lengthAdjust="spacingAndGlyphs">A</text>
<text x="418.28" y="448" font-size="15.5" text-anchor="start" fill="#000000" stroke="#000000" stroke-width="0" textLength="10.75" lengthAdjust="spacingAndGlyphs">B</text>
<line x1="452.5" y1="296" x2="452.5" y2="307.9" stroke="#643c14" stroke-width="2.3" stroke-linecap="butt"/>
<polygon points="452.5,291 449.7,298.4 452.5,297.2 455.3,298.4" fill="#643c14"/>
<line x1="452.5" y1="307.7" x2="452.5" y2="341" stroke="#0d9e86" stroke-width="2.3" stroke-linecap="butt"/>
<polygon points="452.5,353.2 459,337.9 452.5,340.5 446,337.9" fill="#0d9e86"/>
<path d="M452 120.4 L465.25 128.05 L465.25 143.35 L452 151 L438.75 143.35 L438.75 128.05 Z" fill="none" stroke="#000000" stroke-width="1.45" stroke-linejoin="miter"/>
<line x1="452" y1="123.75" x2="462.35" y2="129.72" stroke="#000000" stroke-width="1.45" stroke-linecap="butt"/>
<line x1="462.35" y1="141.68" x2="452" y2="147.65" stroke="#000000" stroke-width="1.45" stroke-linecap="butt"/>
<line x1="441.65" y1="141.68" x2="441.65" y2="129.72" stroke="#000000" stroke-width="1.45" stroke-linecap="butt"/>
<path d="M442.96 100.06 C444.23 99.63 447.1 99.33 449.28 99.11 C451.45 98.88 453.91 98.61 456.01 98.7 C458.12 98.79 460.08 99.36 461.91 99.65 C463.73 99.95 465.07 100.49 466.96 100.47 C468.85 100.45 471.24 99.77 473.27 99.52 C475.31 99.27 477.52 98.81 479.17 98.97 C480.82 99.13 482.4 99.72 483.17 100.47 C483.94 101.22 483.73 102.12 483.8 103.46 C483.87 104.8 483.87 107.38 483.59 108.49 C483.31 109.6 483.34 109.99 482.12 110.12 C480.89 110.26 478.19 109.13 476.22 109.31 C474.26 109.49 472.15 110.71 470.33 111.21 C468.5 111.71 467.1 112.23 465.28 112.3 C463.45 112.37 461.21 111.87 459.38 111.62 C457.56 111.37 456.44 110.85 454.33 110.8 C452.22 110.76 448.72 111.53 446.75 111.35 C444.79 111.17 443.38 110.69 442.54 109.72 C441.7 108.74 441.84 106.84 441.7 105.5 C441.56 104.16 441.49 102.6 441.7 101.69 C441.91 100.79 441.7 100.49 442.96 100.06 Z" fill="#c58f5c"/>
<text x="449.63" y="108" font-size="11.28" text-anchor="start" fill="#000000" stroke="#000000" stroke-width="0" textLength="28.58" lengthAdjust="spacingAndGlyphs">Lignin</text>
<line x1="452" y1="120.4" x2="452" y2="108" stroke="#000000" stroke-width="1.45" stroke-linecap="butt"/>
<line x1="465.25" y1="143.35" x2="475.1" y2="148.8" stroke="#000000" stroke-width="1.45" stroke-linecap="butt"/>
<text x="475.62" y="155" font-size="11.28" text-anchor="start" fill="#000000" stroke="#000000" stroke-width="0" textLength="22.95" lengthAdjust="spacingAndGlyphs">OMe</text>
<line x1="452" y1="151" x2="452" y2="161.5" stroke="#000000" stroke-width="1.45" stroke-linecap="butt"/>
<text x="452" y="171" font-size="11.28" text-anchor="middle" fill="#000000" stroke="#000000" stroke-width="0">O</text>
<path d="M456.97 169.25 C458.24 168.82 461.14 168.53 463.33 168.31 C465.52 168.08 468 167.81 470.12 167.9 C472.24 167.99 474.21 168.55 476.05 168.84 C477.89 169.14 479.23 169.68 481.14 169.66 C483.05 169.63 485.45 168.96 487.5 168.71 C489.55 168.46 491.78 168.01 493.44 168.17 C495.1 168.33 496.69 168.91 497.46 169.66 C498.24 170.4 498.03 171.3 498.1 172.62 C498.17 173.95 498.17 176.52 497.89 177.62 C497.61 178.72 497.64 179.11 496.4 179.24 C495.17 179.38 492.45 178.25 490.47 178.43 C488.49 178.61 486.37 179.82 484.53 180.32 C482.69 180.81 481.28 181.33 479.44 181.4 C477.61 181.47 475.35 180.97 473.51 180.72 C471.67 180.48 470.54 179.96 468.42 179.92 C466.3 179.87 462.77 180.64 460.79 180.46 C458.81 180.28 457.4 179.8 456.55 178.84 C455.7 177.87 455.84 175.98 455.7 174.65 C455.56 173.32 455.49 171.77 455.7 170.87 C455.91 169.97 455.7 169.68 456.97 169.25 Z" fill="#c58f5c"/>
<text x="462.82" y="178" font-size="11.28" text-anchor="start" fill="#000000" stroke="#000000" stroke-width="0" textLength="28.9" lengthAdjust="spacingAndGlyphs">Lignin</text>
<line x1="456" y1="169.4" x2="461.4" y2="172.2" stroke="#000000" stroke-width="1.45" stroke-linecap="butt"/>
<circle cx="451.9" cy="476.7" r="4.6" fill="#a3d8d2"/>
<circle cx="438.3" cy="499.8" r="4.6" fill="#a3d8d2"/>
<circle cx="465.5" cy="499.8" r="4.6" fill="#a3d8d2"/>
<path d="M451.9 476.55 L465.41 484.35 L465.41 499.95 L451.9 507.75 L438.39 499.95 L438.39 484.35 Z" fill="none" stroke="#0d9e86" stroke-width="1.55" stroke-linejoin="miter"/>
<line x1="451.9" y1="479.78" x2="462.61" y2="485.97" stroke="#0d9e86" stroke-width="1.55" stroke-linecap="butt"/>
<line x1="462.61" y1="498.33" x2="451.9" y2="504.52" stroke="#0d9e86" stroke-width="1.55" stroke-linecap="butt"/>
<line x1="441.19" y1="498.33" x2="441.19" y2="485.97" stroke="#0d9e86" stroke-width="1.55" stroke-linecap="butt"/>
<line x1="451.9" y1="507.75" x2="451.9" y2="517.4" stroke="#0d9e86" stroke-width="1.55" stroke-linecap="butt"/>
<text x="446.6" y="497" font-size="12.64" text-anchor="start" fill="#000000" stroke="#000000" stroke-width="0" textLength="11.92" lengthAdjust="spacingAndGlyphs">Ar</text>
<text x="448.71" y="526" font-size="11.28" text-anchor="start" fill="#000000" stroke="#000000" stroke-width="0" textLength="16.21" lengthAdjust="spacingAndGlyphs">OH</text>
<path d="M604.7 133.65 L621.54 143.38 L621.54 162.82 L604.7 172.55 L587.86 162.82 L587.86 143.38 Z" fill="none" stroke="#000000" stroke-width="1.75" stroke-linejoin="miter"/>
<line x1="591.94" y1="145.73" x2="604.7" y2="138.37" stroke="#000000" stroke-width="1.75" stroke-linecap="butt"/>
<line x1="617.46" y1="145.73" x2="617.46" y2="160.47" stroke="#000000" stroke-width="1.75" stroke-linecap="butt"/>
<line x1="604.7" y1="167.83" x2="591.94" y2="160.47" stroke="#000000" stroke-width="1.75" stroke-linecap="butt"/>
<line x1="604.7" y1="133.65" x2="604.7" y2="120.9" stroke="#000000" stroke-width="1.75" stroke-linecap="butt"/>
<text x="604.7" y="119" font-size="11.28" text-anchor="middle" fill="#000000" stroke="#000000" stroke-width="0">O</text>
<path d="M612.78 99.62 C614.27 99.11 617.65 98.76 620.21 98.49 C622.77 98.22 625.65 97.89 628.13 98 C630.61 98.11 632.91 98.78 635.06 99.13 C637.2 99.48 638.77 100.13 641 100.11 C643.23 100.08 646.03 99.27 648.42 98.97 C650.82 98.67 653.42 98.13 655.35 98.32 C657.29 98.51 659.15 99.21 660.06 100.11 C660.97 101 660.72 102.08 660.8 103.67 C660.88 105.26 660.88 108.34 660.55 109.66 C660.22 110.99 660.26 111.45 658.82 111.61 C657.38 111.77 654.2 110.42 651.89 110.64 C649.58 110.85 647.1 112.31 644.96 112.9 C642.81 113.5 641.16 114.12 639.02 114.2 C636.88 114.28 634.23 113.69 632.09 113.39 C629.94 113.09 628.62 112.47 626.15 112.42 C623.67 112.36 619.55 113.28 617.24 113.07 C614.93 112.85 613.28 112.28 612.29 111.12 C611.3 109.96 611.46 107.69 611.3 106.1 C611.13 104.51 611.05 102.64 611.3 101.56 C611.55 100.48 611.3 100.13 612.78 99.62 Z" fill="#5e3815"/>
<text x="618.31" y="109" font-size="11.28" text-anchor="start" fill="#ffffff" stroke="#ffffff" stroke-width="0" textLength="29.11" lengthAdjust="spacingAndGlyphs">Lignin</text>
<line x1="609.8" y1="111.4" x2="616.5" y2="107.7" stroke="#000000" stroke-width="1.75" stroke-linecap="butt"/>
<line x1="587.86" y1="143.38" x2="577" y2="137.1" stroke="#000000" stroke-width="1.75" stroke-linecap="butt"/>
<text x="552.62" y="138" font-size="11.28" text-anchor="start" fill="#000000" stroke="#000000" stroke-width="0" textLength="23.49" lengthAdjust="spacingAndGlyphs">MeO</text>
<path d="M565.67 183.63 C567.15 183.11 570.5 182.76 573.04 182.49 C575.57 182.22 578.44 181.89 580.89 182 C583.35 182.11 585.64 182.79 587.77 183.14 C589.9 183.49 591.45 184.15 593.66 184.12 C595.87 184.09 598.65 183.28 601.02 182.98 C603.4 182.68 605.98 182.14 607.9 182.33 C609.82 182.52 611.66 183.22 612.56 184.12 C613.46 185.02 613.22 186.1 613.3 187.71 C613.38 189.31 613.38 192.4 613.05 193.74 C612.73 195.07 612.77 195.53 611.34 195.69 C609.9 195.86 606.75 194.5 604.46 194.71 C602.17 194.93 599.72 196.4 597.59 197 C595.46 197.59 593.82 198.22 591.7 198.3 C589.57 198.38 586.95 197.78 584.82 197.49 C582.69 197.19 581.39 196.56 578.93 196.51 C576.48 196.45 572.38 197.38 570.09 197.16 C567.8 196.94 566.16 196.37 565.18 195.2 C564.2 194.03 564.36 191.75 564.2 190.15 C564.04 188.55 563.95 186.67 564.2 185.59 C564.45 184.5 564.2 184.15 565.67 183.63 Z" fill="#5e3815"/>
<text x="575.93" y="194" font-size="11.28" text-anchor="start" fill="#ffffff" stroke="#ffffff" stroke-width="0" textLength="28.58" lengthAdjust="spacingAndGlyphs">Lignin</text>
<line x1="604.7" y1="172.55" x2="604.7" y2="186" stroke="#000000" stroke-width="1.75" stroke-linecap="butt"/>
<line x1="621.54" y1="162.82" x2="638.3" y2="172.3" stroke="#e8202e" stroke-width="2.7" stroke-linecap="butt"/>
<path d="M638.3 191.6 L638.3 172.3 L654.7 162.8 L671.7 172.6 L671.7 185.3" fill="none" stroke="#000000" stroke-width="1.75" stroke-linejoin="miter"/>
<text x="667.5" y="196" font-size="11.28" text-anchor="start" fill="#000000" stroke="#000000" stroke-width="0" textLength="16.53" lengthAdjust="spacingAndGlyphs">OH</text>
<line x1="654.7" y1="162.8" x2="654.7" y2="150.9" stroke="#000000" stroke-width="1.75" stroke-linecap="butt"/>
<text x="654.7" y="148" font-size="11.28" text-anchor="middle" fill="#000000" stroke="#000000" stroke-width="0">O</text>
<path d="M688.3 104.55 L705.14 114.28 L705.14 133.72 L688.3 143.45 L671.46 133.72 L671.46 114.28 Z" fill="none" stroke="#000000" stroke-width="1.75" stroke-linejoin="miter"/>
<line x1="675.54" y1="116.63" x2="688.3" y2="109.27" stroke="#000000" stroke-width="1.75" stroke-linecap="butt"/>
<line x1="701.06" y1="116.63" x2="701.06" y2="131.37" stroke="#000000" stroke-width="1.75" stroke-linecap="butt"/>
<line x1="688.3" y1="138.73" x2="675.54" y2="131.37" stroke="#000000" stroke-width="1.75" stroke-linecap="butt"/>
<line x1="671.46" y1="133.72" x2="660.1" y2="139.9" stroke="#000000" stroke-width="1.75" stroke-linecap="butt"/>
<line x1="688.3" y1="143.45" x2="688.3" y2="156.7" stroke="#000000" stroke-width="1.75" stroke-linecap="butt"/>
<text x="684.22" y="167" font-size="11.28" text-anchor="start" fill="#000000" stroke="#000000" stroke-width="0" textLength="22.95" lengthAdjust="spacingAndGlyphs">OMe</text>
<path d="M710.83 99.53 C712.35 98.98 715.83 98.61 718.46 98.32 C721.09 98.03 724.06 97.68 726.61 97.8 C729.15 97.92 731.53 98.64 733.73 99.01 C735.94 99.39 737.55 100.08 739.84 100.05 C742.13 100.02 745.01 99.16 747.48 98.84 C749.94 98.52 752.61 97.94 754.6 98.15 C756.59 98.35 758.5 99.1 759.44 100.05 C760.37 101 760.12 102.15 760.2 103.85 C760.28 105.56 760.28 108.84 759.95 110.26 C759.61 111.67 759.65 112.16 758.16 112.33 C756.68 112.5 753.41 111.06 751.04 111.29 C748.66 111.52 746.12 113.08 743.91 113.72 C741.71 114.35 740.01 115.01 737.8 115.1 C735.6 115.19 732.88 114.55 730.68 114.23 C728.47 113.92 727.11 113.25 724.57 113.2 C722.02 113.14 717.78 114.12 715.41 113.89 C713.03 113.66 711.34 113.05 710.32 111.81 C709.3 110.57 709.47 108.15 709.3 106.45 C709.13 104.75 709.05 102.76 709.3 101.61 C709.55 100.45 709.3 100.08 710.83 99.53 Z" fill="#5e3815"/>
<text x="718.61" y="109" font-size="11.28" text-anchor="start" fill="#ffffff" stroke="#ffffff" stroke-width="0" textLength="29.32" lengthAdjust="spacingAndGlyphs">Lignin</text>
<line x1="705.14" y1="114.28" x2="716.8" y2="107.8" stroke="#000000" stroke-width="1.75" stroke-linecap="butt"/>
<path d="M638.3 191.45 L655.14 201.18 L655.14 220.62 L638.3 230.35 L621.46 220.62 L621.46 201.18 Z" fill="none" stroke="#000000" stroke-width="1.75" stroke-linejoin="miter"/>
<line x1="638.3" y1="196.17" x2="651.06" y2="203.53" stroke="#000000" stroke-width="1.75" stroke-linecap="butt"/>
<line x1="651.06" y1="218.27" x2="638.3" y2="225.63" stroke="#000000" stroke-width="1.75" stroke-linecap="butt"/>
<line x1="625.54" y1="218.27" x2="625.54" y2="203.53" stroke="#000000" stroke-width="1.75" stroke-linecap="butt"/>
<line x1="655.14" y1="220.62" x2="666.44" y2="226.93" stroke="#000000" stroke-width="1.75" stroke-linecap="butt"/>
<text x="667.85" y="235" font-size="11.28" text-anchor="start" fill="#000000" stroke="#000000" stroke-width="0" textLength="23.36" lengthAdjust="spacingAndGlyphs">OMe</text>
<line x1="638.3" y1="230.35" x2="638.3" y2="243.15" stroke="#000000" stroke-width="1.75" stroke-linecap="butt"/>
<text x="638.3" y="254" font-size="11.28" text-anchor="middle" fill="#000000" stroke="#000000" stroke-width="0">O</text>
<path d="M644.8 253.61 C646.3 253.08 649.72 252.72 652.3 252.45 C654.88 252.17 657.8 251.84 660.3 251.95 C662.8 252.06 665.13 252.75 667.3 253.11 C669.47 253.47 671.05 254.14 673.3 254.11 C675.55 254.08 678.38 253.25 680.8 252.95 C683.22 252.64 685.84 252.09 687.8 252.28 C689.76 252.48 691.63 253.19 692.55 254.11 C693.47 255.02 693.22 256.13 693.3 257.76 C693.38 259.39 693.38 262.55 693.05 263.9 C692.72 265.26 692.76 265.73 691.3 265.89 C689.84 266.06 686.63 264.68 684.3 264.9 C681.97 265.12 679.47 266.61 677.3 267.22 C675.13 267.83 673.47 268.47 671.3 268.55 C669.13 268.63 666.47 268.02 664.3 267.72 C662.13 267.42 660.8 266.78 658.3 266.72 C655.8 266.67 651.63 267.61 649.3 267.39 C646.97 267.17 645.3 266.59 644.3 265.4 C643.3 264.21 643.47 261.88 643.3 260.25 C643.13 258.62 643.05 256.71 643.3 255.6 C643.55 254.5 643.3 254.14 644.8 253.61 Z" fill="#5e3815"/>
<text x="652.63" y="264" font-size="11.28" text-anchor="start" fill="#ffffff" stroke="#ffffff" stroke-width="0" textLength="28.37" lengthAdjust="spacingAndGlyphs">Lignin</text>
<line x1="643.3" y1="252.95" x2="649.8" y2="256.15" stroke="#000000" stroke-width="1.75" stroke-linecap="butt"/>
<line x1="801.7" y1="152.6" x2="910.4" y2="152.6" stroke="#000000" stroke-width="1.75" stroke-linecap="butt"/>
<polygon points="918.3,152.6 907.3,148.1 910.1,152.6 907.3,157.1" fill="#000000"/>
<text x="943.02" y="157" font-size="15.5" text-anchor="start" fill="#000000" stroke="#000000" stroke-width="0" textLength="82.49" lengthAdjust="spacingAndGlyphs">Combustion</text>
<line x1="800.9" y1="233.4" x2="909.7" y2="233.4" stroke="#000000" stroke-width="1.75" stroke-linecap="butt"/>
<polygon points="917.6,233.4 906.6,228.9 909.4,233.4 906.6,237.9" fill="#000000"/>
<line x1="848.3" y1="224.8" x2="865.5" y2="242" stroke="#000000" stroke-width="2.4" stroke-linecap="butt"/>
<line x1="848.3" y1="242" x2="865.5" y2="224.8" stroke="#000000" stroke-width="2.4" stroke-linecap="butt"/>
<text x="931.85" y="237" font-size="15.5" text-anchor="start" fill="#000000" stroke="#000000" stroke-width="0" textLength="117.09" lengthAdjust="spacingAndGlyphs">Depolymerization</text>
<path d="M612 427.6 C614 426.25 618.28 421.38 624 419.5 C629.72 417.62 637.97 416 646.3 416.3 C654.63 416.6 664.43 419.7 674 421.3 C683.57 422.9 694.43 425.75 703.7 425.9 C712.97 426.05 723.12 423.5 729.6 422.2 C736.08 420.9 740.43 418.78 742.6 418.1 L736.1 412.0 L770.4 412.0 L746.3 435.6 L747.6 425.9 L747.6 425.9 C745.22 426.37 740.62 427.62 733.3 428.7 C725.98 429.78 713.58 432.7 703.7 432.4 C693.82 432.1 683.28 428.97 674 426.9 C664.72 424.83 655.7 420.93 648 420 C640.3 419.07 633.8 419.87 627.8 421.3 C621.8 422.73 614.63 427.38 612 428.6 Z" fill="#cfebea"/>
<path d="M611.2 419.5 L601.65 436.04 L582.55 436.04 L573 419.5 L582.55 402.96 L601.65 402.96 Z" fill="none" stroke="#0d9e86" stroke-width="1.7" stroke-linejoin="miter"/>
<line x1="577.5" y1="419.5" x2="584.8" y2="406.86" stroke="#0d9e86" stroke-width="1.7" stroke-linecap="butt"/>
<line x1="599.4" y1="406.86" x2="606.7" y2="419.5" stroke="#0d9e86" stroke-width="1.7" stroke-linecap="butt"/>
<line x1="599.4" y1="432.14" x2="584.8" y2="432.14" stroke="#0d9e86" stroke-width="1.7" stroke-linecap="butt"/>
<line x1="573" y1="419.5" x2="559.7" y2="419.5" stroke="#0d9e86" stroke-width="1.7" stroke-linecap="butt"/>
<text x="541.65" y="424" font-size="11.28" text-anchor="start" fill="#000000" stroke="#000000" stroke-width="0" textLength="15.59" lengthAdjust="spacingAndGlyphs">HO</text>
<text x="585.3" y="424" font-size="12.64" text-anchor="start" fill="#000000" stroke="#000000" stroke-width="0" textLength="11.72" lengthAdjust="spacingAndGlyphs">Ar</text>
<line x1="599" y1="425" x2="603.8" y2="427.6" stroke="#0d9e86" stroke-width="2.9" stroke-linecap="butt"/>
<line x1="608.2" y1="430.2" x2="616.3" y2="434.8" stroke="#0d9e86" stroke-width="3.2" stroke-linecap="butt"/>
<path d="M615.8 454.2 L615.8 434.7 L632.5 425 L649.2 434.7 L649.2 447.5" fill="none" stroke="#000000" stroke-width="1.75" stroke-linejoin="miter"/>
<text x="645.01" y="458" font-size="11.28" text-anchor="start" fill="#000000" stroke="#000000" stroke-width="0" textLength="16.1" lengthAdjust="spacingAndGlyphs">OH</text>
<line x1="632.5" y1="425" x2="632.5" y2="412.2" stroke="#000000" stroke-width="1.75" stroke-linecap="butt"/>
<text x="632.5" y="410" font-size="11.28" text-anchor="middle" fill="#000000" stroke="#000000" stroke-width="0">O</text>
<path d="M665.8 366.65 L682.64 376.38 L682.64 395.83 L665.8 405.55 L648.96 395.83 L648.96 376.38 Z" fill="none" stroke="#000000" stroke-width="1.75" stroke-linejoin="miter"/>
<line x1="653.04" y1="378.73" x2="665.8" y2="371.37" stroke="#000000" stroke-width="1.75" stroke-linecap="butt"/>
<line x1="678.56" y1="378.73" x2="678.56" y2="393.47" stroke="#000000" stroke-width="1.75" stroke-linecap="butt"/>
<line x1="665.8" y1="400.83" x2="653.04" y2="393.47" stroke="#000000" stroke-width="1.75" stroke-linecap="butt"/>
<line x1="648.96" y1="395.83" x2="637.9" y2="402.2" stroke="#000000" stroke-width="1.75" stroke-linecap="butt"/>
<line x1="665.8" y1="405.55" x2="665.8" y2="418.4" stroke="#000000" stroke-width="1.75" stroke-linecap="butt"/>
<text x="662.01" y="429" font-size="11.28" text-anchor="start" fill="#000000" stroke="#000000" stroke-width="0" textLength="23.36" lengthAdjust="spacingAndGlyphs">OMe</text>
<path d="M688.53 361.33 C690.06 360.78 693.54 360.41 696.18 360.12 C698.81 359.83 701.79 359.48 704.34 359.6 C706.89 359.72 709.27 360.44 711.48 360.81 C713.69 361.19 715.31 361.88 717.6 361.85 C719.89 361.82 722.78 360.96 725.25 360.64 C727.72 360.32 730.39 359.74 732.39 359.95 C734.39 360.15 736.3 360.9 737.24 361.85 C738.17 362.8 737.91 363.95 738 365.66 C738.09 367.36 738.09 370.64 737.75 372.06 C737.4 373.47 737.45 373.96 735.96 374.13 C734.47 374.31 731.2 372.86 728.82 373.09 C726.44 373.32 723.89 374.88 721.68 375.52 C719.47 376.15 717.77 376.81 715.56 376.9 C713.35 376.99 710.63 376.35 708.42 376.03 C706.21 375.72 704.85 375.05 702.3 375 C699.75 374.94 695.5 375.92 693.12 375.69 C690.74 375.46 689.04 374.85 688.02 373.61 C687 372.37 687.17 369.95 687 368.25 C686.83 366.55 686.75 364.56 687 363.41 C687.25 362.25 687 361.88 688.53 361.33 Z" fill="#e5ac7a"/>
<text x="696.31" y="371" font-size="11.28" text-anchor="start" fill="#000000" stroke="#000000" stroke-width="0" textLength="29.32" lengthAdjust="spacingAndGlyphs">Lignin</text>
<line x1="682.64" y1="376.38" x2="693.8" y2="369.8" stroke="#000000" stroke-width="1.75" stroke-linecap="butt"/>
<path d="M615.8 453.95 L632.64 463.67 L632.64 483.12 L615.8 492.85 L598.96 483.12 L598.96 463.67 Z" fill="none" stroke="#000000" stroke-width="1.75" stroke-linejoin="miter"/>
<line x1="615.8" y1="458.67" x2="628.56" y2="466.03" stroke="#000000" stroke-width="1.75" stroke-linecap="butt"/>
<line x1="628.56" y1="480.77" x2="615.8" y2="488.13" stroke="#000000" stroke-width="1.75" stroke-linecap="butt"/>
<line x1="603.04" y1="480.77" x2="603.04" y2="466.03" stroke="#000000" stroke-width="1.75" stroke-linecap="butt"/>
<line x1="632.64" y1="483.12" x2="643.94" y2="489.43" stroke="#000000" stroke-width="1.75" stroke-linecap="butt"/>
<text x="645.35" y="497" font-size="11.28" text-anchor="start" fill="#000000" stroke="#000000" stroke-width="0" textLength="23.36" lengthAdjust="spacingAndGlyphs">OMe</text>
<line x1="615.8" y1="492.85" x2="615.8" y2="505.65" stroke="#000000" stroke-width="1.75" stroke-linecap="butt"/>
<text x="615.8" y="517" font-size="11.28" text-anchor="middle" fill="#000000" stroke="#000000" stroke-width="0">O</text>
<path d="M622.3 516.11 C623.8 515.58 627.22 515.22 629.8 514.95 C632.38 514.67 635.3 514.34 637.8 514.45 C640.3 514.56 642.63 515.25 644.8 515.61 C646.97 515.97 648.55 516.64 650.8 516.61 C653.05 516.58 655.88 515.75 658.3 515.45 C660.72 515.14 663.34 514.59 665.3 514.78 C667.26 514.98 669.13 515.69 670.05 516.61 C670.97 517.52 670.72 518.63 670.8 520.26 C670.88 521.89 670.88 525.05 670.55 526.4 C670.22 527.76 670.26 528.23 668.8 528.39 C667.34 528.56 664.13 527.18 661.8 527.4 C659.47 527.62 656.97 529.11 654.8 529.72 C652.63 530.33 650.97 530.97 648.8 531.05 C646.63 531.13 643.97 530.52 641.8 530.22 C639.63 529.92 638.3 529.28 635.8 529.22 C633.3 529.17 629.13 530.11 626.8 529.89 C624.47 529.67 622.8 529.09 621.8 527.9 C620.8 526.71 620.97 524.38 620.8 522.75 C620.63 521.12 620.55 519.21 620.8 518.1 C621.05 517 620.8 516.64 622.3 516.11 Z" fill="#e5ac7a"/>
<text x="630.13" y="526" font-size="11.28" text-anchor="start" fill="#000000" stroke="#000000" stroke-width="0" textLength="28.37" lengthAdjust="spacingAndGlyphs">Lignin</text>
<line x1="620.8" y1="515.45" x2="627.3" y2="518.65" stroke="#000000" stroke-width="1.75" stroke-linecap="butt"/>
<path d="M819.2 330.3 L834.2 328.7 L843 341.3 L836.7 356.2 L821.7 357 L812.5 343.7 Z" fill="none" stroke="#0d9e86" stroke-width="1.5" stroke-linejoin="miter"/>
<line x1="819.9" y1="329.6" x2="813" y2="319.8" stroke="#0d9e86" stroke-width="1.5" stroke-linecap="butt"/>
<line x1="817.6" y1="331.3" x2="810.7" y2="321.5" stroke="#0d9e86" stroke-width="1.5" stroke-linecap="butt"/>
<text x="809.7" y="322" font-size="11.28" text-anchor="middle" fill="#000000" stroke="#000000" stroke-width="0">O</text>
<line x1="833" y1="332.8" x2="839.2" y2="341.8" stroke="#0d9e86" stroke-width="1.5" stroke-linecap="butt"/>
<line x1="816.7" y1="344.8" x2="823" y2="354" stroke="#0d9e86" stroke-width="1.5" stroke-linecap="butt"/>
<text x="821.7" y="348" font-size="12.64" text-anchor="start" fill="#000000" stroke="#000000" stroke-width="0" textLength="12.63" lengthAdjust="spacingAndGlyphs">Ar</text>
<path d="M836.7 356.2 L852.5 365.8 L840 375 Z" fill="none" stroke="#0d9e86" stroke-width="1.5" stroke-linejoin="miter"/>
<path d="M852.5 365.8 L867.5 365.8 L873.3 373.3" fill="none" stroke="#000000" stroke-width="1.45" stroke-linejoin="miter"/>
<text x="873.4" y="382" font-size="11.28" text-anchor="start" fill="#000000" stroke="#000000" stroke-width="0" textLength="7.99" lengthAdjust="spacingAndGlyphs">R</text>
<line x1="840" y1="375" x2="840" y2="390.8" stroke="#000000" stroke-width="1.45" stroke-linecap="butt"/>
<path d="M840 390.8 L853.42 398.55 L853.42 414.05 L840 421.8 L826.58 414.05 L826.58 398.55 Z" fill="none" stroke="#000000" stroke-width="1.45" stroke-linejoin="miter"/>
<line x1="840" y1="394.03" x2="850.62" y2="400.17" stroke="#000000" stroke-width="1.45" stroke-linecap="butt"/>
<line x1="850.62" y1="412.43" x2="840" y2="418.57" stroke="#000000" stroke-width="1.45" stroke-linecap="butt"/>
<line x1="829.38" y1="412.43" x2="829.38" y2="400.17" stroke="#000000" stroke-width="1.45" stroke-linecap="butt"/>
<line x1="826.58" y1="414.05" x2="817.5" y2="419.3" stroke="#000000" stroke-width="1.45" stroke-linecap="butt"/>
<text x="794.64" y="425" font-size="11.28" text-anchor="start" fill="#000000" stroke="#000000" stroke-width="0" textLength="22.64" lengthAdjust="spacingAndGlyphs">MeO</text>
<line x1="840" y1="421.8" x2="840" y2="431.8" stroke="#000000" stroke-width="1.45" stroke-linecap="butt"/>
<text x="840.3" y="441" font-size="11.28" text-anchor="middle" fill="#000000" stroke="#000000" stroke-width="0">O</text>
<line x1="844.4" y1="440" x2="847.6" y2="441.7" stroke="#000000" stroke-width="1.45" stroke-linecap="butt"/>
<line x1="850.2" y1="442.9" x2="853.5" y2="444.8" stroke="#000000" stroke-width="1.45" stroke-linecap="butt"/>
<path d="M895 327 L886.7 335.8 L872.5 335.8 L864.5 327 L872.5 317 L886.7 317 Z" fill="none" stroke="#7d7d7d" stroke-width="1.45" stroke-linejoin="miter"/>
<line x1="868.6" y1="325.95" x2="873.35" y2="320.03" stroke="#7d7d7d" stroke-width="1.45" stroke-linecap="butt"/>
<line x1="885.95" y1="320.03" x2="890.87" y2="325.95" stroke="#7d7d7d" stroke-width="1.45" stroke-linecap="butt"/>
<line x1="883.84" y1="333.75" x2="875.42" y2="333.75" stroke="#7d7d7d" stroke-width="1.45" stroke-linecap="butt"/>
<path d="M887 303.03 C888.2 302.61 890.93 302.32 893 302.1 C895.07 301.88 897.4 301.61 899.4 301.7 C901.4 301.79 903.27 302.34 905 302.63 C906.73 302.92 908 303.45 909.8 303.43 C911.6 303.41 913.87 302.74 915.8 302.5 C917.73 302.25 919.83 301.81 921.4 301.97 C922.97 302.12 924.47 302.7 925.2 303.43 C925.93 304.16 925.73 305.05 925.8 306.36 C925.87 307.66 925.87 310.19 925.6 311.28 C925.33 312.36 925.37 312.74 924.2 312.87 C923.03 313 920.47 311.9 918.6 312.07 C916.73 312.25 914.73 313.45 913 313.94 C911.27 314.42 909.93 314.93 908.2 315 C906.47 315.07 904.33 314.58 902.6 314.33 C900.87 314.09 899.8 313.58 897.8 313.54 C895.8 313.49 892.47 314.25 890.6 314.07 C888.73 313.89 887.4 313.43 886.6 312.47 C885.8 311.52 885.93 309.66 885.8 308.35 C885.67 307.04 885.6 305.51 885.8 304.63 C886 303.74 885.8 303.45 887 303.03 Z" fill="#e5ac7a"/>
<text x="892.93" y="311" font-size="11.28" text-anchor="start" fill="#000000" stroke="#000000" stroke-width="0" textLength="28.58" lengthAdjust="spacingAndGlyphs">Lignin</text>
<line x1="886.7" y1="317" x2="891.9" y2="311" stroke="#7d7d7d" stroke-width="1.45" stroke-linecap="butt"/>
<line x1="872.5" y1="335.8" x2="867.8" y2="341.7" stroke="#7d7d7d" stroke-width="1.45" stroke-linecap="butt"/>
<line x1="886.7" y1="335.8" x2="891.7" y2="341.7" stroke="#7d7d7d" stroke-width="1.45" stroke-linecap="butt"/>
<text x="853.38" y="351" font-size="11.28" text-anchor="start" fill="#000000" stroke="#000000" stroke-width="0" textLength="14.94" lengthAdjust="spacingAndGlyphs">HO</text>
<text x="891.21" y="351" font-size="11.28" text-anchor="start" fill="#000000" stroke="#000000" stroke-width="0" textLength="23.36" lengthAdjust="spacingAndGlyphs">OMe</text>
<line x1="797.9" y1="460.4" x2="913.7" y2="460.4" stroke="#0d9e86" stroke-width="1.8" stroke-linecap="butt"/>
<polygon points="921.7,460.4 910.8,455.9 913.4,460.4 910.8,464.9" fill="#0d9e86"/>
<text x="828.62" y="481" font-size="15.5" text-anchor="start" fill="#000000" stroke="#000000" stroke-width="0" textLength="58.97" lengthAdjust="spacingAndGlyphs">Catalytic</text>
<text x="816.86" y="499" font-size="15.5" text-anchor="start" fill="#000000" stroke="#000000" stroke-width="0" textLength="91.47" lengthAdjust="spacingAndGlyphs">aryl migration</text>
<text x="813.65" y="517" font-size="15.5" text-anchor="start" fill="#000000" stroke="#000000" stroke-width="0" textLength="93.48" lengthAdjust="spacingAndGlyphs">and reduction</text>
<path d="M987.8 450.5 L1004.34 460.05 L1004.34 479.15 L987.8 488.7 L971.26 479.15 L971.26 460.05 Z" fill="none" stroke="#000000" stroke-width="1.75" stroke-linejoin="miter"/>
<line x1="987.8" y1="455.13" x2="1000.33" y2="462.37" stroke="#000000" stroke-width="1.75" stroke-linecap="butt"/>
<line x1="1000.33" y1="476.83" x2="987.8" y2="484.07" stroke="#000000" stroke-width="1.75" stroke-linecap="butt"/>
<line x1="975.27" y1="476.83" x2="975.27" y2="462.37" stroke="#000000" stroke-width="1.75" stroke-linecap="butt"/>
<line x1="1004.34" y1="479.15" x2="1016" y2="485.5" stroke="#000000" stroke-width="1.75" stroke-linecap="butt"/>
<text x="1017.51" y="494" font-size="11.28" text-anchor="start" fill="#000000" stroke="#000000" stroke-width="0" textLength="23.46" lengthAdjust="spacingAndGlyphs">OMe</text>
<line x1="987.8" y1="488.7" x2="987.8" y2="501.6" stroke="#000000" stroke-width="1.75" stroke-linecap="butt"/>
<text x="983.7" y="513" font-size="11.28" text-anchor="start" fill="#000000" stroke="#000000" stroke-width="0" textLength="16.64" lengthAdjust="spacingAndGlyphs">OH</text>
<path d="M987.8 450.5 L987.8 431.3 L1004.7 421.5 L1012.5 426" fill="none" stroke="#000000" stroke-width="1.75" stroke-linejoin="miter"/>
<line x1="1016.6" y1="428.5" x2="1021.4" y2="431.5" stroke="#000000" stroke-width="1.75" stroke-linecap="butt"/>
<path d="M1048.8 435.1 L1039.05 451.99 L1019.55 451.99 L1009.8 435.1 L1019.55 418.21 L1039.05 418.21 Z" fill="none" stroke="#0d9e86" stroke-width="1.7" stroke-linejoin="miter"/>
<line x1="1021.63" y1="421.81" x2="1036.97" y2="421.81" stroke="#0d9e86" stroke-width="1.7" stroke-linecap="butt"/>
<line x1="1044.64" y1="435.1" x2="1036.97" y2="448.39" stroke="#0d9e86" stroke-width="1.7" stroke-linecap="butt"/>
<line x1="1021.63" y1="448.39" x2="1013.96" y2="435.1" stroke="#0d9e86" stroke-width="1.7" stroke-linecap="butt"/>
<line x1="1048.8" y1="435.1" x2="1062" y2="435.1" stroke="#0d9e86" stroke-width="1.7" stroke-linecap="butt"/>
<text x="1064.21" y="440" font-size="11.28" text-anchor="start" fill="#000000" stroke="#000000" stroke-width="0" textLength="16.21" lengthAdjust="spacingAndGlyphs">OH</text>
<text x="1023.5" y="440" font-size="12.64" text-anchor="start" fill="#000000" stroke="#000000" stroke-width="0" textLength="11.32" lengthAdjust="spacingAndGlyphs">Ar</text>
<text x="955.15" y="531" font-size="15.5" text-anchor="start" fill="#000000" stroke="#000000" stroke-width="0" textLength="74.25" lengthAdjust="spacingAndGlyphs">Bisphenols</text>
<polygon points="973,324.7 983.1,332.5 1002.8,330.6 1004.4,329 1007.6,327.6 1043.8,323.3 1050.2,324 1055.5,325.4 1060.8,325.2 1076.3,323.3 1076.3,324.6 1060.8,326.5 1055.5,326.7 1050.2,325.3 1043.8,324.6 1007.6,328.9 1004.4,330.3 1002.8,331.9 983.1,333.8 973,326" fill="#7fada9" stroke="#7fada9" stroke-width="0.4" stroke-linejoin="round"/>
<polygon points="973,324.7 981,323.6 990.6,322.9 996.9,324 1002.3,324.7 1043.8,320.4 1046.5,318.3 1055.5,316.9 1066.2,316 1076.3,322.6 1076.3,323.3 1060.8,325.2 1055.5,325.4 1050.2,324 1043.8,323.3 1007.6,327.6 1004.4,329 1002.8,330.6 983.1,332.5" fill="#9cc6c2" stroke="#9cc6c2" stroke-width="0.5" stroke-linejoin="round"/>
<text x="982.54" y="356" font-size="15.5" text-anchor="start" fill="#000000" stroke="#000000" stroke-width="0" textLength="84.75" lengthAdjust="spacingAndGlyphs">Biopolymers</text>
<line x1="1021.8" y1="400.8" x2="1021.8" y2="374.1" stroke="#0d9e86" stroke-width="1.8" stroke-linecap="butt"/>
<polygon points="1021.8,366 1016.8,377 1021.8,374.4 1026.8,377" fill="#0d9e86"/>
</svg>
</body>
</html>
